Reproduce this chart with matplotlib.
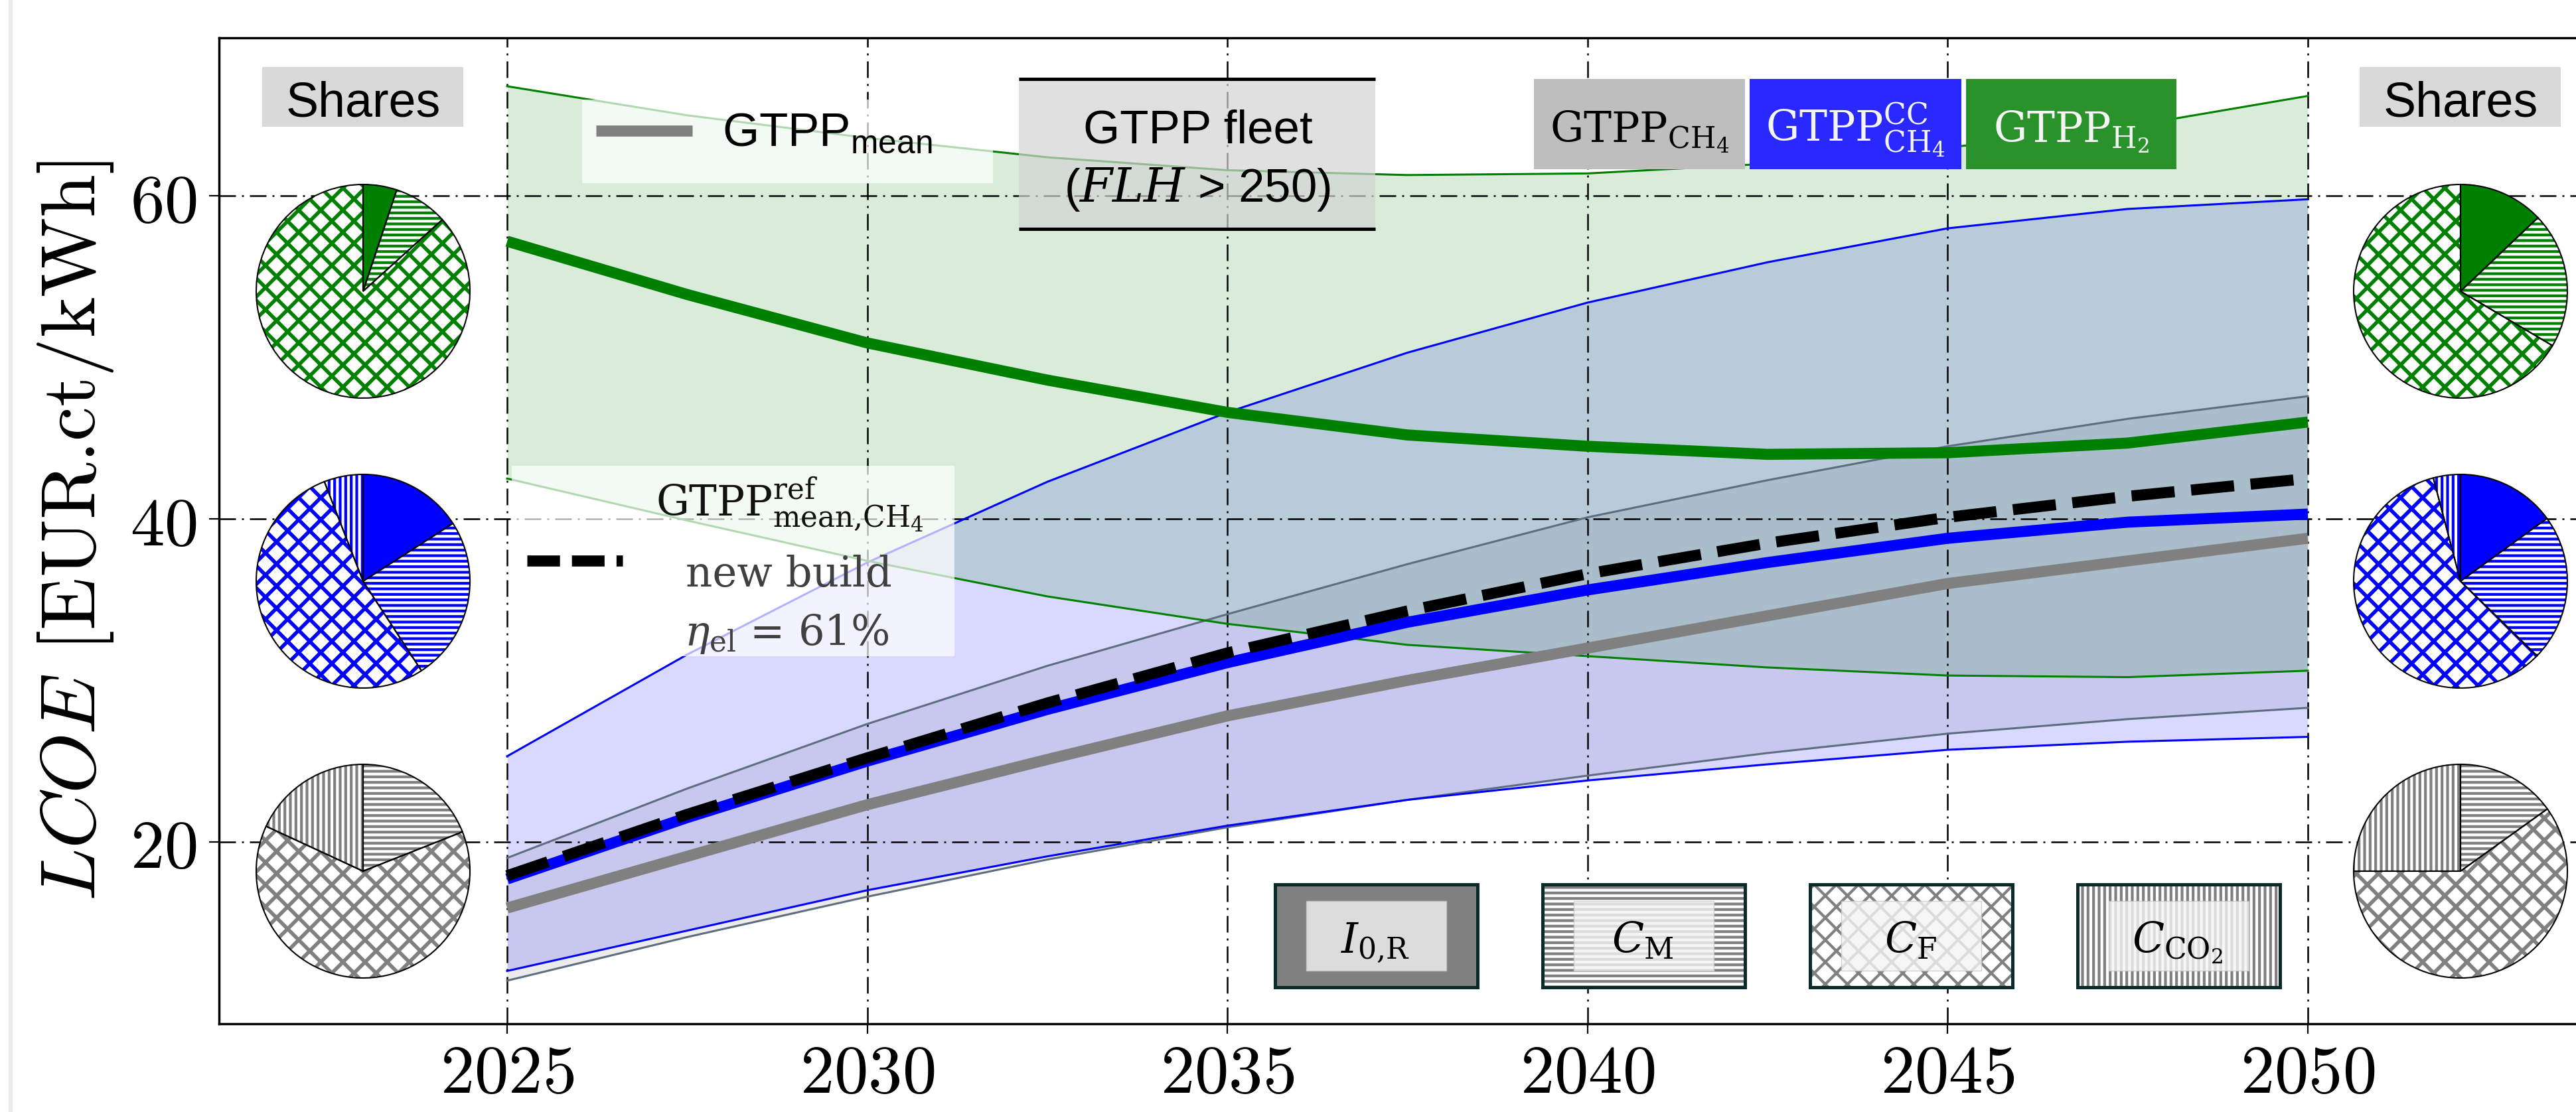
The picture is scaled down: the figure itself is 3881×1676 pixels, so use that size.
import matplotlib
matplotlib.use("Agg")
import matplotlib.pyplot as plt
from matplotlib.patches import Rectangle
from matplotlib.lines import Line2D

# ---------------- data ----------------
years = [2025, 2027.5, 2030, 2032.5, 2035, 2037.5, 2040, 2042.5, 2045, 2047.5, 2050]

# hydrogen gas turbine plants (band + mean)
h2_upper = [66.8, 65.0, 63.6, 62.4, 61.6, 61.3, 61.4, 62.0, 63.0, 64.3, 66.2]
h2_lower = [42.5, 39.9, 37.4, 35.2, 33.5, 32.2, 31.5, 30.8, 30.3, 30.2, 30.6]
h2_mean = [57.2, 53.9, 50.9, 48.6, 46.6, 45.2, 44.5, 44.0, 44.1, 44.7, 46.0]

# methane plants with carbon capture
cc_upper = [25.3, 31.6, 37.3, 42.3, 46.6, 50.3, 53.4, 55.9, 58.0, 59.2, 59.8]
cc_lower = [12.0, 14.5, 17.0, 19.1, 21.0, 22.6, 23.8, 24.8, 25.7, 26.2, 26.5]
cc_mean = [17.7, 21.5, 25.0, 28.2, 31.1, 33.6, 35.6, 37.3, 38.8, 39.8, 40.3]

# methane plants
ch4_upper = [19.0, 23.3, 27.3, 30.9, 34.1, 37.2, 40.1, 42.4, 44.5, 46.2, 47.6]
ch4_lower = [11.4, 14.1, 16.6, 18.9, 20.9, 22.6, 24.1, 25.5, 26.7, 27.6, 28.3]
ch4_mean = [15.9, 19.1, 22.3, 25.1, 27.8, 30.0, 32.0, 34.0, 36.0, 37.4, 38.8]

# new-build methane reference plant
ref_new_build = [17.9, 21.7, 25.2, 28.6, 31.7, 34.3, 36.6, 38.5, 40.1, 41.4, 42.5]

x_ticks = [2025, 2030, 2035, 2040, 2045, 2050]
y_ticks = [20, 40, 60]

tech_labels = [r'$\mathrm{GTPP}_{\mathrm{CH_4}}$',
               r'$\mathrm{GTPP}^{\mathrm{CC}}_{\mathrm{CH_4}}$',
               r'$\mathrm{GTPP}_{\mathrm{H_2}}$']
cost_parts = [r'$I_{\mathrm{0{,}R}}$', r'$C_{\mathrm{M}}$',
              r'$C_{\mathrm{F}}$', r'$C_{\mathrm{CO_2}}$']
part_hatches = [None, '----', 'xx', '||||']

# cost shares [I0R, CM, CF, CCO2] in percent
shares_h2_2025 = [5.1, 8.2, 86.7, 0.0]
shares_cc_2025 = [15.9, 24.9, 53.3, 5.9]
shares_ch4_2025 = [0.0, 19.0, 62.9, 18.1]
shares_h2_2050 = [12.9, 20.6, 66.5, 0.0]
shares_cc_2050 = [15.0, 22.3, 58.6, 4.1]
shares_ch4_2050 = [0.0, 15.1, 59.9, 25.0]

# ---------------- style ----------------
GREEN, BLUE, GRAY = '#008000', '#0000FF', '#808080'
plt.rcParams['mathtext.fontset'] = 'dejavuserif'
plt.rcParams['mathtext.rm'] = 'Liberation Sans'
plt.rcParams['hatch.linewidth'] = 1.5

W, H, DPI = 3881, 1676, 200
fig = plt.figure(figsize=(W / DPI, H / DPI), dpi=DPI)


def fx(x):
    return x / W


def fy(y):
    return 1 - y / H


def rect(x0, y0, x1, y1, **kw):
    r = Rectangle((fx(x0), fy(y1)), (x1 - x0) / W, (y1 - y0) / H,
                  transform=fig.transFigure, **kw)
    fig.add_artist(r)
    return r


def ftext(x, y, s, **kw):
    kw.setdefault('ha', 'center')
    kw.setdefault('va', 'baseline')
    return fig.text(fx(x), fy(y), s, **kw)


# faint frame line at the left edge
fig.add_artist(Line2D([fx(16), fx(16)], [0, 1], transform=fig.transFigure,
                      color='#EDEDED', lw=2.2))

ax = fig.add_axes([fx(330), fy(1543), (3911 - 330) / W, (1543 - 57) / H])
ax.set_xlim(2021, 2054)
ax.set_ylim(8.73, 69.8)

# bands
ax.fill_between(years, ch4_lower, ch4_upper, color=GRAY, alpha=0.15, lw=0)
ax.fill_between(years, cc_lower, cc_upper, color=BLUE, alpha=0.15, lw=0)
ax.fill_between(years, h2_lower, h2_upper, color=GREEN, alpha=0.15, lw=0)

# band edges
for lo, up, c in [(ch4_lower, ch4_upper, '#5E6E80'),
                  (cc_lower, cc_upper, BLUE),
                  (h2_lower, h2_upper, GREEN)]:
    ax.plot(years, lo, color=c, lw=1.1)
    ax.plot(years, up, color=c, lw=1.1)

# mean curves
THICK = 6.0
ax.plot(years, h2_mean, color=GREEN, lw=THICK, solid_capstyle='butt')
ax.plot(years, ch4_mean, color=GRAY, lw=THICK, solid_capstyle='butt')
ax.plot(years, cc_mean, color=BLUE, lw=THICK, solid_capstyle='butt')
ax.plot(years, ref_new_build, color='black', lw=THICK,
        linestyle=(0, (3.9, 1.5)), dash_capstyle='butt')

ax.grid(True, color='black', lw=0.9, linestyle=(0, (10, 3.6, 1.2, 3.6)))

ax.set_xticks(x_ticks)
xl = ax.set_xticklabels([f'${t}$' for t in x_ticks])
ax.set_yticks(y_ticks)
yl = ax.set_yticklabels([f'${t}$' for t in y_ticks])
for t in list(xl) + list(yl):
    t.set_math_fontfamily('cm')
    t.set_fontsize(37)
ax.tick_params(axis='both', direction='out', length=5.4, width=0.8)
ax.tick_params(axis='x', pad=3.5)
ax.tick_params(axis='y', pad=6.5)
for s in ax.spines.values():
    s.set_linewidth(1.25)
ax.set_ylabel(r'$LCOE$ [EUR.ct/kWh]', family='cmr10', fontsize=42,
              math_fontfamily='cm', labelpad=8)

# ---------------- pies ----------------
R = 161
pie_colors = [GREEN, BLUE, GRAY]
pie_rows = [439, 876, 1313]
pie_sets = [(547, [shares_h2_2025, shares_cc_2025, shares_ch4_2025]),
            (3707, [shares_h2_2050, shares_cc_2050, shares_ch4_2050])]
for cx, sets in pie_sets:
    for cy, vals, col in zip(pie_rows, sets, pie_colors):
        pa = fig.add_axes([fx(cx - R - 4), fy(cy + R + 4),
                           (2 * R + 8) / W, (2 * R + 8) / H])
        faces = [col, 'white', 'white', 'white']
        wedges, _ = pa.pie(vals, colors=faces, startangle=90, counterclock=False,
                           wedgeprops={'linewidth': 0, 'edgecolor': col})
        for w, h in zip(wedges, part_hatches):
            if h:
                w.set_hatch(h)
                if h.startswith('x') and hasattr(w, 'set_hatch_linewidth'):
                    w.set_hatch_linewidth(2.0)
        pa.pie(vals, startangle=90, counterclock=False,
               wedgeprops={'fill': False, 'edgecolor': 'black', 'linewidth': 0.75})
        lim = (R + 4) / R
        pa.set_xlim(-lim, lim)
        pa.set_ylim(-lim, lim)
        pa.set_axis_off()

# "Shares" headers
for cx in (547, 3707):
    rect(cx - 152, 101, cx + 151, 191, fc='#D9D9D9', ec='none', zorder=5)
    ftext(cx, 175, 'Shares', family='Liberation Sans', fontsize=26.5, zorder=6)

# ---------------- annotations ----------------
# mean legend
rect(877, 150, 1496, 276, fc='white', alpha=0.7, ec='none', zorder=5)
fig.add_artist(Line2D([fx(898), fx(1043)], [fy(197.5)] * 2, transform=fig.transFigure,
                      color=GRAY, lw=THICK, solid_capstyle='butt', zorder=6))
ftext(1088, 219, r'GTPP$_{\mathrm{mean}}$', ha='left', family='Liberation Sans',
      fontsize=25.5, math_fontfamily='custom', zorder=6)

# reference plant legend
rect(771, 702, 1438, 989, fc='white', alpha=0.7, ec='none', zorder=5)
fig.add_artist(Line2D([fx(794), fx(938)], [fy(845)] * 2, transform=fig.transFigure,
                      color='black', lw=THICK, linestyle=(0, (2.95, 1.08)),
                      dash_capstyle='butt', zorder=6))
ftext(1190, 779, r'$\mathrm{GTPP}^{\mathrm{ref}}_{\mathrm{mean{,}CH_4}}$',
      fontsize=22.5, color='#111111', zorder=6)
ftext(1188, 884, 'new build', family='DejaVu Serif', fontsize=22.5,
      color='#404040', zorder=6)
ftext(1185, 973, r'$\eta_{\mathrm{el}}$ = 61%', family='DejaVu Serif',
      fontsize=22.5, color='#404040', zorder=6)

# fleet box
rect(1535, 117, 2072, 347, fc='lightgray', alpha=0.7, ec='none', zorder=5)
for yy in (119, 345):
    fig.add_artist(Line2D([fx(1535), fx(2072)], [fy(yy)] * 2, transform=fig.transFigure,
                          color='black', lw=1.8, solid_capstyle='butt', zorder=6))
ftext(1805, 215, 'GTPP fleet', family='Liberation Sans', fontsize=25.5, zorder=6)
ftext(1804, 304, r'($FLH$ > 250)', family='Liberation Sans', fontsize=25.5, zorder=6)

# technology colour key
tech_boxes = [(2311, 2629, '#BEBEBE', 'black'),
              (2636, 2955, '#2828FF', '#F5F5F5'),
              (2962, 3279, '#2A922A', '#F5F5F5')]
for (x0, x1, fc, tc), lab in zip(tech_boxes, tech_labels):
    rect(x0, 119, x1, 255, fc=fc, ec='none', zorder=5)
    ftext((x0 + x1) / 2, 214, lab, fontsize=22.7, color=tc, zorder=6)

# cost component key
for i, (lab, h) in enumerate(zip(cost_parts, part_hatches)):
    cx = 2074 + i * 403
    face = GRAY if h is None else 'white'
    rect(cx - 153, 1333, cx + 152, 1488, fc=face, ec=GRAY, lw=0, hatch=h, zorder=5)
    rect(cx - 153, 1333, cx + 152, 1488, fill=False, ec='#0B2B2B', lw=1.8, zorder=6)
    rect(cx - 106, 1358, cx + 105, 1463, fc='#F4F4F4', alpha=0.8,
         ec='#C8C8C8', lw=0.5, zorder=6)
    ftext(cx - 2, 1436, lab, fontsize=22.7, color='black', zorder=7)

fig.savefig('out.png', dpi=DPI)
